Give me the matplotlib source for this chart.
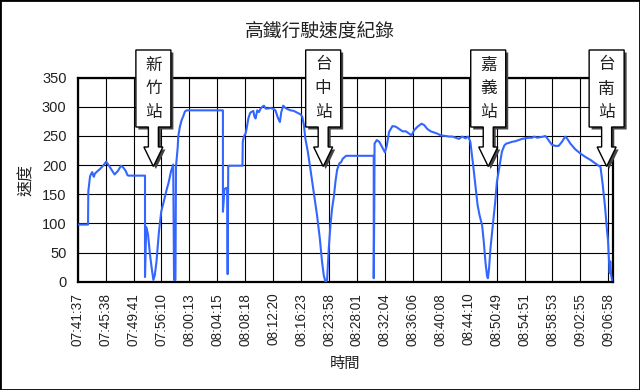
import matplotlib
matplotlib.use('Agg')
import matplotlib.pyplot as plt
from matplotlib.patches import Polygon, Rectangle

# fonts: CJK for the Chinese text, a plain sans for the numbers
cjk = 'Noto Sans CJK TC'
num_font = 'Liberation Sans'

title = '高鐵行駛速度紀錄'
x_title = '時間'
y_title = '速度'

time_labels = ['07:41:37', '07:45:38', '07:49:41', '07:56:10', '08:00:13',
               '08:04:15', '08:08:18', '08:12:20', '08:16:23', '08:23:58',
               '08:28:01', '08:32:04', '08:36:06', '08:40:08', '08:44:10',
               '08:50:49', '08:54:51', '08:58:53', '09:02:55', '09:06:58']

# position along the category axis (in label steps) and speed (km/h)
pos = [0.00, 0.37, 0.38, 0.44, 0.47, 0.52, 0.55, 0.58, 0.61, 0.67,
       0.79, 0.91, 1.02, 1.08, 1.20, 1.32, 1.44, 1.55, 1.63, 1.72,
       1.78, 1.81, 2.41, 2.41, 2.45, 2.50, 2.52, 2.59, 2.65, 2.71,
       2.76, 2.82, 2.91, 2.99, 3.08, 3.18, 3.26, 3.34, 3.42, 3.45,
       3.50, 3.52, 3.58, 3.60, 3.66, 3.72, 3.78, 3.84, 3.90, 5.20,
       5.20, 5.23, 5.25, 5.28, 5.35, 5.37, 5.39, 5.42, 5.90, 5.91,
       5.95, 6.01, 6.05, 6.11, 6.17, 6.21, 6.29, 6.33, 6.37, 6.43,
       6.49, 6.55, 6.61, 6.67, 6.73, 6.79, 6.90, 6.99, 7.08, 7.17,
       7.24, 7.29, 7.36, 7.44, 7.52, 7.62, 7.74, 7.86, 7.98, 8.04,
       8.10, 8.15, 8.24, 8.33, 8.45, 8.57, 8.67, 8.75, 8.81, 8.87,
       8.93, 8.96, 8.99, 9.05, 9.11, 9.17, 9.23, 9.29, 9.37, 9.43,
       9.49, 9.61, 10.60, 10.60, 10.62, 10.63, 10.71, 10.80, 10.92, 11.00,
       11.07, 11.15, 11.27, 11.39, 11.51, 11.63, 11.75, 11.87, 11.95, 12.05,
       12.17, 12.31, 12.40, 12.52, 12.64, 12.76, 12.88, 13.00, 13.18, 13.30,
       13.42, 13.54, 13.65, 13.77, 13.89, 13.97, 14.01, 14.06, 14.16, 14.24,
       14.32, 14.39, 14.48, 14.54, 14.60, 14.66, 14.69, 14.73, 14.78, 14.84,
       14.89, 14.95, 15.01, 15.11, 15.19, 15.28, 15.35, 15.43, 15.55, 15.67,
       15.79, 15.91, 16.03, 16.15, 16.27, 16.35, 16.45, 16.57, 16.68, 16.74,
       16.80, 16.90, 16.98, 17.10, 17.22, 17.34, 17.46, 17.52, 17.64, 17.82,
       18.00, 18.18, 18.36, 18.53, 18.65, 18.72, 18.80, 18.88, 18.95, 18.99,
       19.02, 19.05, 19.07, 19.10, 19.13]
speed = [98, 98, 155, 180, 184, 188, 183, 180, 185, 188,
         193, 199, 206, 202, 193, 184, 190, 199, 196, 190,
         183, 182, 182, 8, 94, 85, 80, 46, 23, 3,
         11, 34, 86, 120, 137, 157, 171, 189, 201, 3,
         3, 198, 230, 249, 266, 277, 284, 292, 294, 294,
         120, 140, 157, 160, 161, 13, 198, 199, 199, 240,
         249, 254, 263, 280, 289, 291, 293, 283, 280, 294,
         291, 297, 300, 302, 297, 297, 298, 297, 294, 281,
         274, 291, 302, 298, 296, 294, 293, 290, 287, 283,
         269, 246, 223, 194, 154, 114, 74, 34, 11, 0,
         3, 29, 57, 97, 126, 145, 172, 192, 203, 205,
         211, 216, 216, 6, 129, 237, 243, 240, 229, 222,
         234, 257, 267, 266, 262, 258, 258, 254, 251, 260,
         266, 271, 269, 262, 258, 256, 254, 251, 250, 249,
         249, 247, 245, 249, 246, 249, 246, 240, 200, 166,
         131, 114, 97, 69, 34, 9, 6, 23, 57, 86,
         109, 137, 171, 200, 223, 234, 237, 238, 240, 241,
         243, 245, 246, 247, 247, 249, 247, 248, 249, 250,
         247, 240, 235, 233, 233, 240, 249, 246, 237, 227,
         220, 214, 209, 203, 199, 197, 166, 130, 90, 70,
         40, 15, 35, 12, 3]

stations = ['新竹站', '台中站', '嘉義站', '台南站']
station_pos = [2.71, 8.79, 14.70, 18.94]

W, H = 640, 390
fig = plt.figure(figsize=(W / 100, H / 100), dpi=100)
ax = fig.add_axes([77.7 / W, 1 - 281.7 / H, (612.5 - 77.7) / W, (281.7 - 77.7) / H])

ax.plot(pos, speed, color='#3366ff', linewidth=1.5, zorder=3)

ax.set_xlim(0, 19.15)
ax.set_ylim(0, 350)
ax.set_xticks(range(len(time_labels)))
ax.set_xticklabels(time_labels, rotation=90, fontfamily=num_font, fontsize=9.8, color='#222222')
ax.set_yticks(range(0, 351, 50))
for lab in ax.get_yticklabels():
    lab.set_fontfamily(num_font)
    lab.set_fontsize(10.5)
    lab.set_color('#222222')
ax.tick_params(length=0, pad=8)
ax.grid(True, color='black', linewidth=0.8)
ax.set_axisbelow(True)
for s in ax.spines.values():
    s.set_linewidth(1.6)
    s.set_color('black')


def fx(px):
    return px / W


def fy(py):
    return 1 - py / H


fig.text(fx(320), fy(31), title, ha='center', va='center', fontsize=13.5,
         family=cjk, color='#222222')
fig.text(fx(26), fy(180), y_title, ha='center', va='center', rotation=90,
         fontsize=11.5, family=cjk, color='#222222')
fig.text(fx(345), fy(363), x_title, ha='center', va='center', fontsize=11,
         family=cjk, color='#222222')

# down-arrow callouts over the stations
for name, p in zip(stations, station_pos):
    cx = ax.transData.transform((p, 0))[0]
    outline = [(cx - 17.5, 50), (cx + 17.5, 50), (cx + 17.5, 127), (cx + 5, 127),
               (cx + 5, 147), (cx + 9.5, 147), (cx, 166.5), (cx - 9.5, 147),
               (cx - 5, 147), (cx - 5, 127), (cx - 17.5, 127)]
    shadow = [(fx(x + 2.5), fy(y + 2.5)) for x, y in outline]
    fig.add_artist(Polygon(shadow, closed=True, transform=fig.transFigure,
                           facecolor='#444444', edgecolor='none', zorder=4))
    fig.add_artist(Polygon([(fx(x), fy(y)) for x, y in outline], closed=True,
                           transform=fig.transFigure, facecolor='white',
                           edgecolor='black', linewidth=1.0, zorder=5))
    for ch, cy in zip(name, [65, 89, 112.5]):
        fig.text(fx(cx), fy(cy), ch, ha='center', va='center', fontsize=12,
                 family=cjk, color='#222222', zorder=6)

fig.add_artist(Rectangle((0, 0), 1, 1, transform=fig.transFigure, fill=False,
                         edgecolor='black', linewidth=2, zorder=10))

fig.savefig('out.png', dpi=100)
